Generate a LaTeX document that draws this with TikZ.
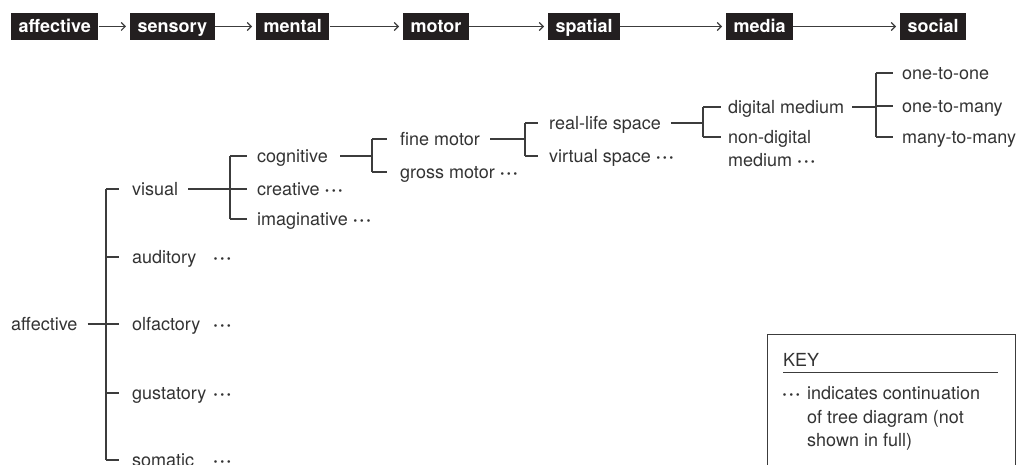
\documentclass[tikz,border=0pt]{standalone}
\usepackage{fontspec}
\setmainfont{TeX Gyre Heros}
\usetikzlibrary{arrows.meta}

\definecolor{barfill}{HTML}{231F20}
\definecolor{linegray}{HTML}{3C3C3C}
\definecolor{textgray}{HTML}{333333}

\newcommand{\cont}{{\bfseries ·\kern1.6pt·\kern1.6pt·}}

\begin{document}
\begin{tikzpicture}[
    x=1pt, y=-1pt,
    font=\fontsize{18}{21.5}\selectfont,
    stage/.style={fill=barfill, text=white, anchor=west, inner xsep=7.5pt,
                  inner ysep=5pt, text height=14.5pt, text depth=2.5pt,
                  font=\fontsize{18}{21.5}\selectfont\bfseries},
    flow/.style={-{Straight Barb[length=4pt,width=8pt]}, line width=1.1pt,
                 draw=linegray, shorten >=4pt},
    item/.style={anchor=west, inner sep=0pt, text height=13pt, text depth=0pt,
                 text=textgray},
    branch/.style={draw=linegray, line width=1.3pt},
  ]
  \useasboundingbox (0,0) rectangle (1025,465);
  \clip (0,0) rectangle (1025,465);

  % --- Stage bar (top) ---
  \node[stage] (s1) at (11,26.5)  {affective};
  \node[stage] (s2) at (130,26.5) {sensory};
  \node[stage] (s3) at (256,26.5) {mental};
  \node[stage] (s4) at (403,26.5) {motor};
  \node[stage] (s5) at (548,26.5) {spatial};
  \node[stage] (s6) at (726,26.5) {media};
  \node[stage] (s7) at (900,26.5) {social};
  \foreach \a/\b in {s1/s2,s2/s3,s3/s4,s4/s5,s5/s6,s6/s7}
    \draw[flow] (\a) -- (\b);

  % --- Tree: senses ---
  \node[item] (aff) at (11,324) {affective};
  \node[item] (vis) at (132,189) {visual};
  \node[item] (aud) at (132,257) {\makebox[81pt][l]{auditory}\cont};
  \node[item] (olf) at (132,324) {\makebox[81pt][l]{olfactory}\cont};
  \node[item] (gus) at (132,393) {\makebox[81pt][l]{gustatory}\cont};
  \node[item] (som) at (132,460) {\makebox[81pt][l]{somatic}\cont};
  \coordinate (tA) at (106,0);
  \draw[branch] ([xshift=10pt]aff.east) -- (tA |- aff);
  \draw[branch] (tA |- vis) -- (tA |- som);
  \foreach \c in {vis,aud,olf,gus,som}
    \draw[branch] (tA |- \c) -- ([xshift=-13pt]\c.west);

  % --- Tree: mental ---
  \node[item] (cog) at (257,156) {cognitive};
  \node[item] (cre) at (257,189) {creative \cont};
  \node[item] (ima) at (257,219) {imaginative \cont};
  \coordinate (tV) at (230,0);
  \draw[branch] ([xshift=10pt]vis.east) -- (tV |- vis);
  \draw[branch] (tV |- cog) -- (tV |- ima);
  \foreach \c in {cog,cre,ima}
    \draw[branch] (tV |- \c) -- ([xshift=-10pt]\c.west);

  % --- Tree: motor ---
  \node[item] (fin) at (400,139) {fine motor};
  \node[item] (gro) at (400,172) {gross motor \cont};
  \coordinate (tC) at (372,0);
  \draw[branch] ([xshift=12pt]cog.east) -- (tC |- cog);
  \draw[branch] (tC |- fin) -- (tC |- gro);
  \foreach \c in {fin,gro}
    \draw[branch] (tC |- \c) -- ([xshift=-13pt]\c.west);

  % --- Tree: spatial ---
  \node[item] (rea) at (549,123) {real-life space};
  \node[item] (vir) at (549,156) {virtual space \cont};
  \coordinate (tF) at (525,0);
  \draw[branch] ([xshift=10pt]fin.east) -- (tF |- fin);
  \draw[branch] (tF |- rea) -- (tF |- vir);
  \foreach \c in {rea,vir}
    \draw[branch] (tF |- \c) -- ([xshift=-11pt]\c.west);

  % --- Tree: media ---
  \node[item] (dig) at (728,107) {digital medium};
  \node[item] (nd)  at (728,137) {non-digital};
  \node[item] (ndm) at (728,160) {medium \cont};
  \coordinate (tR) at (703,0);
  \draw[branch] ([xshift=10pt]rea.east) -- (tR |- rea);
  \draw[branch] (tR |- dig) -- (tR |- nd);
  \foreach \c in {dig,nd}
    \draw[branch] (tR |- \c) -- ([xshift=-7pt]\c.west);

  % --- Tree: social ---
  \node[item] (one) at (902,73)  {one-to-one};
  \node[item] (oma) at (902,106) {one-to-many};
  \node[item] (mma) at (902,137) {many-to-many};
  \coordinate (tD) at (876,0);
  \draw[branch] ([xshift=8pt]dig.east) -- (tD |- dig);
  \draw[branch] (tD |- one) -- (tD |- mma);
  \foreach \c in {one,oma,mma}
    \draw[branch] (tD |- \c) -- ([xshift=-9pt]\c.west);

  % --- Key ---
  \draw[linegray, line width=1pt] (767,334) rectangle (1015,480);
  \node[item] (key) at (783,360) {KEY};
  \draw[linegray, line width=1pt] (783,372) -- (998,372);
  \node[item] (kdots) at (782,393) {\cont};
  \node[anchor=north west, inner sep=0pt, align=left, text=textgray,
        font=\fontsize{18}{23.5}\selectfont] (ktext) at (807,386.5)
    {indicates continuation\\of tree diagram (not\\shown in full)};
\end{tikzpicture}
\end{document}
